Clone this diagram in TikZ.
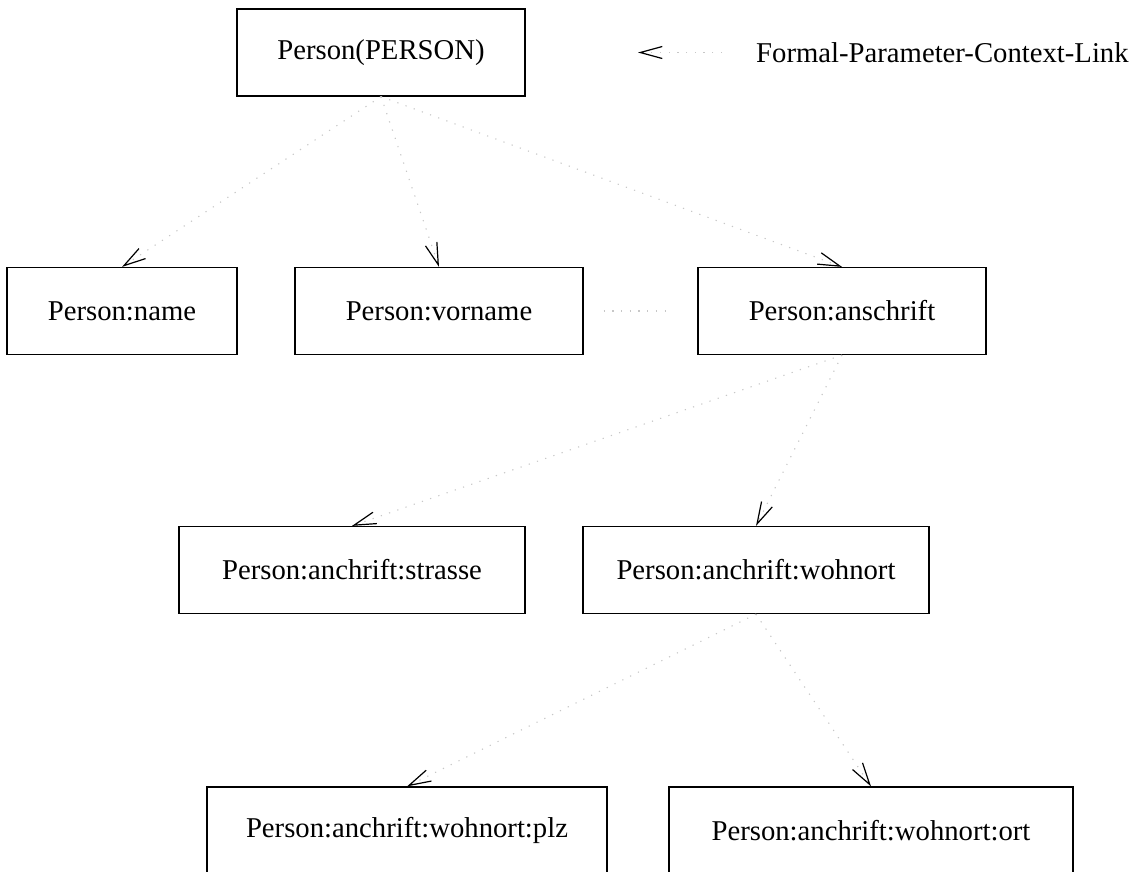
\documentclass[tikz,border=0pt]{standalone}
\usepackage{fontspec}
\setmainfont{Liberation Serif}
\usetikzlibrary{arrows.meta}
\begin{document}
\begin{tikzpicture}[x=1pt,y=-1pt,
  every node/.style={font=\fontsize{28.7}{34}\selectfont},
  entity/.style={draw=black, line width=1.2pt, rectangle, inner sep=0pt,
                 minimum height=87pt, align=center},
  context/.style={draw=black!22, line width=1.1pt, dash pattern=on 1.2pt off 7.5pt},
  link/.style={context, -{Straight Barb[length=22pt, width=12pt, color=black, line width=1.2pt]}},
]
\useasboundingbox (0,0) rectangle (1137,871);
\clip (0,0) rectangle (1137,871);

% entity boxes
\node[entity, minimum width=288pt] (person)   at (381,52.5)  {Person(PERSON)};
\node[entity, minimum width=230pt] (name)     at (122,311)   {Person:name};
\node[entity, minimum width=288pt] (vorname)  at (439,311)   {Person:vorname};
\node[entity, minimum width=288pt] (anschrift) at (842,311)  {Person:anschrift};
\node[entity, minimum width=346pt] (strasse)  at (352,570)   {Person:anchrift:strasse};
\node[entity, minimum width=346pt] (wohnort)  at (756,570)   {Person:anchrift:wohnort};
\node[entity, minimum width=400pt] (plz)      at (407,830.5) {Person:anchrift:wohnort:plz};
\node[entity, minimum width=404pt] (ort)      at (871,830.5) {Person:anchrift:wohnort:ort};

% legend
\coordinate (legfrom) at (722,52.5);
\coordinate (legto)   at (638,52.5);
\draw[link] (legfrom) -- (legto);
\node[anchor=west, inner sep=0pt] (legend) at (756,52.5) {Formal-Parameter-Context-Link};

% context links
\draw[link] (person.south) -- (name.north);
\draw[link] (person.south) -- (vorname.north);
\draw[link] (person.south) -- (anschrift.north);
\draw[context, shorten <=20pt, shorten >=31pt] (vorname.east) -- (anschrift.west);
\draw[link] (anschrift.south) -- (strasse.north);
\draw[link] (anschrift.south) -- (wohnort.north);
\draw[link] (wohnort.south) -- (plz.north);
\draw[link] (wohnort.south) -- (ort.north);
\end{tikzpicture}
\end{document}
